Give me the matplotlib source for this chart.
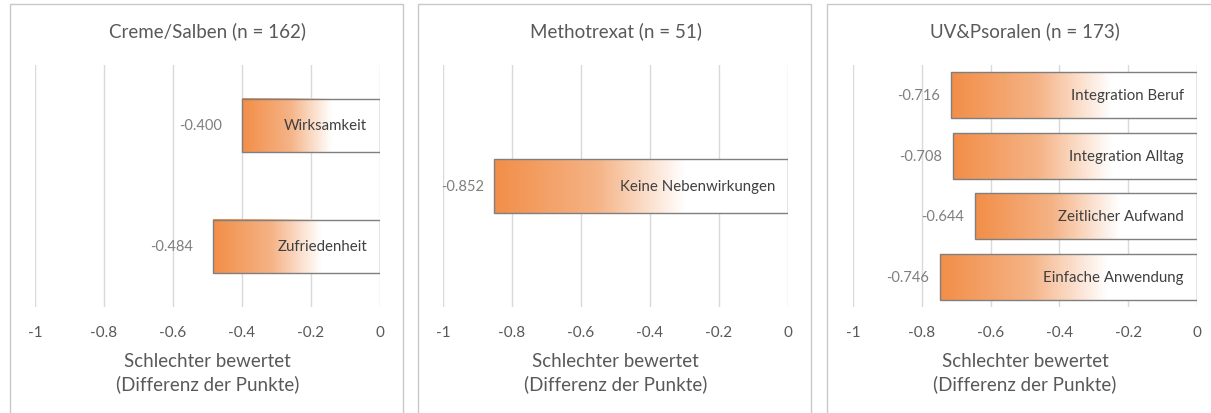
import numpy as np
import matplotlib.pyplot as plt
from matplotlib.colors import LinearSegmentedColormap
from matplotlib.patches import Rectangle

plt.rcParams['font.family'] = ['Lato', 'DejaVu Sans']

# data
titles = ['Creme/Salben (n = 162)', 'Methotrexat (n = 51)', 'UV&Psoralen (n = 173)']
cats_creme = ['Wirksamkeit', 'Zufriedenheit']
vals_creme = [-0.400, -0.484]
cats_mtx = ['Keine Nebenwirkungen']
vals_mtx = [-0.852]
cats_uv = ['Integration Beruf', 'Integration Alltag', 'Zeitlicher Aufwand', 'Einfache Anwendung']
vals_uv = [-0.716, -0.708, -0.644, -0.746]
xticks = [-1, -0.8, -0.6, -0.4, -0.2, 0]
xlabel = 'Schlechter bewertet\n(Differenz der Punkte)'

W, H = 1211, 414
fig = plt.figure(figsize=(W / 100, H / 100), dpi=100)

# gradient: orange on the left, white from ~65% of the bar
cmap = LinearSegmentedColormap.from_list(
    'grad', [(0, '#f28e48'), (0.35, '#f5b386'), (0.65, '#ffffff'), (1, '#ffffff')])
grad = np.linspace(0, 1, 256).reshape(1, -1)

# panel frames (pixels): left, right
frames = [(10, 403), (418, 811), (827, 1240)]
# axes extents in pixels: x at -1, x at 0
axes_px = [(35, 380), (443, 788), (853, 1197)]
bar_h = [0.44, 0.22, 0.76]
val_gap = [20, 10, 11]
panels = [(cats_creme, vals_creme), (cats_mtx, vals_mtx), (cats_uv, vals_uv)]

for i, (cats, vals) in enumerate(panels):
    fl, fr = frames[i]
    fig.patches.append(Rectangle((fl / W, -0.1), (fr - fl) / W, 1.1 - 5 / H,
                                 transform=fig.transFigure, fill=False,
                                 edgecolor='#c8c8c8', lw=1))
    x0, x1 = axes_px[i]
    ax = fig.add_axes([x0 / W, 1 - 308 / H, (x1 - x0) / W, 242 / H])
    n = len(cats)
    ax.set_xticks(xticks)
    ax.set_xticklabels(['-1', '-0.8', '-0.6', '-0.4', '-0.2', '0'])
    ax.set_yticks([])
    ax.tick_params(axis='x', length=0, pad=13, labelsize=11, labelcolor='#595959')
    for s in ax.spines.values():
        s.set_visible(False)
    ax.grid(axis='x', color='#d9d9d9', lw=1)
    ax.set_axisbelow(True)
    h = bar_h[i]
    for j, (c, v) in enumerate(zip(cats, vals)):
        ax.imshow(grad, cmap=cmap, aspect='auto', extent=[v, 0, j + h / 2, j - h / 2],
                  zorder=2, interpolation='bilinear')
        ax.barh(j, v, height=h, left=0, fill=False, edgecolor='#7f7f7f', lw=1, zorder=3)
        ax.annotate(f'{v:.3f}', (v, j), xytext=(-val_gap[i] * 0.72, 0),
                    textcoords='offset points', ha='right', va='center',
                    fontsize=10.5, color='#7f7f7f')
        ax.annotate(c, (0, j), xytext=(-13 * 0.72, 0), textcoords='offset points',
                    ha='right', va='center', fontsize=10.8, color='#404040', zorder=4)
    ax.set_xlim(-1, 0)
    ax.set_ylim(n - 0.5, -0.5)
    ax.set_xlabel(xlabel, fontsize=13.5, color='#595959', labelpad=9, linespacing=1.4)
    fig.text((x0 + x1) / 2 / W, 1 - 31 / H, titles[i], ha='center', va='center',
             fontsize=13.5, color='#595959')

fig.savefig('out.png', dpi=100)
